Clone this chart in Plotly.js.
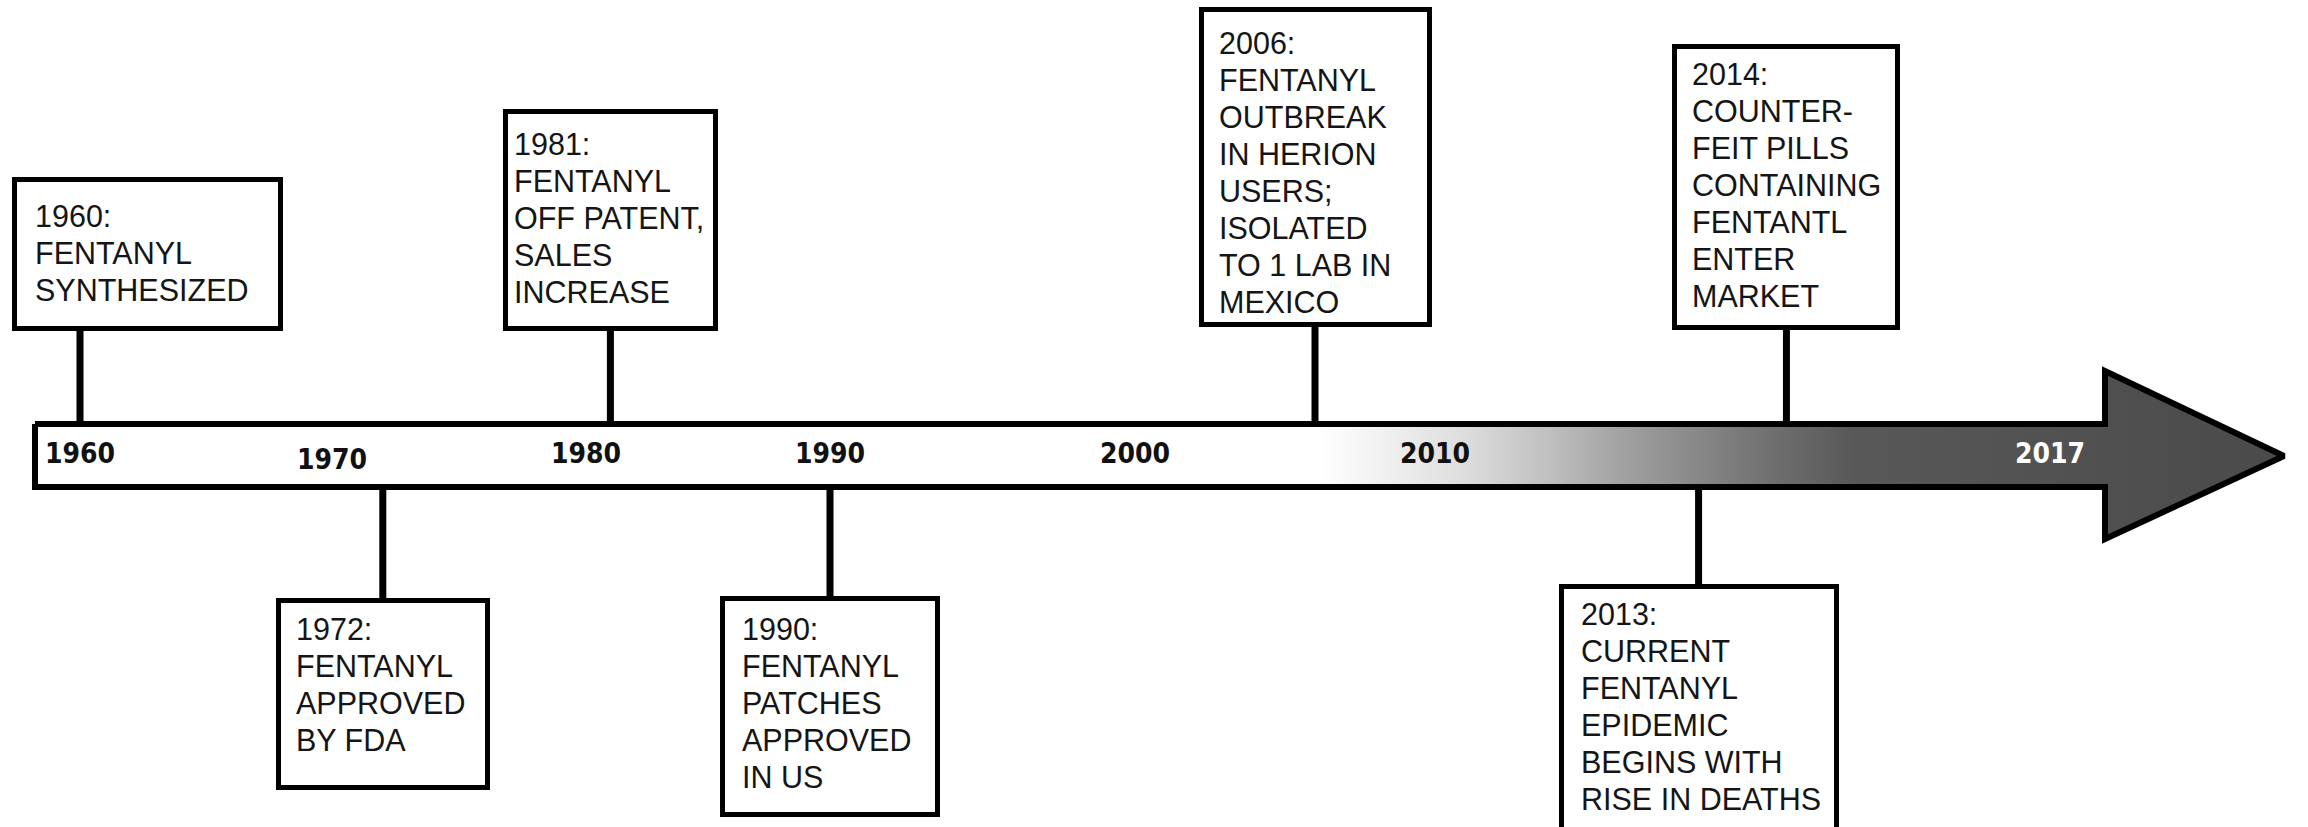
<!DOCTYPE html>
<html><head><meta charset="utf-8">
<script src="https://cdn.plot.ly/plotly-3.0.1.min.js"></script>
<style>html,body{margin:0;padding:0;background:#fff;}#chart{width:2308px;height:827px;}</style>
</head><body><div id="chart"></div>
<script>
// ---------------- DATA ----------------
const tickYears  = [1960, 1970, 1980, 1990, 2000, 2010, 2017];
const tickLabels = ['1960', '1970', '1980', '1990', '2000', '2010', '2017'];

const eventYears = [1960, 1972, 1981, 1990, 2006, 2013, 2014];
const eventSides = ['above', 'below', 'above', 'below', 'above', 'below', 'above'];
const eventLines = [
  ['1960:', 'FENTANYL', 'SYNTHESIZED'],
  ['1972:', 'FENTANYL', 'APPROVED', 'BY FDA'],
  ['1981:', 'FENTANYL', 'OFF PATENT,', 'SALES', 'INCREASE'],
  ['1990:', 'FENTANYL', 'PATCHES', 'APPROVED', 'IN US'],
  ['2006:', 'FENTANYL', 'OUTBREAK', 'IN HERION', 'USERS;', 'ISOLATED', 'TO 1 LAB IN', 'MEXICO'],
  ['2013:', 'CURRENT', 'FENTANYL', 'EPIDEMIC', 'BEGINS WITH', 'RISE IN DEATHS'],
  ['2014:', 'COUNTER-', 'FEIT PILLS', 'CONTAINING', 'FENTANTL', 'ENTER', 'MARKET']
];

// ---------------- LAYOUT (not data) ----------------
const W = 2308, H = 827;
// the timeline is hand drawn and not to scale: each decade mark gets its own column,
// and every span between two marks is its own linear Plotly axis
const markColumns = [80, 332, 586, 830, 1135, 1435, 2050];
const tickDy = {1970: 6};
const tickColor = {2017: '#ffffff'};

const bar = {top: 424, bottom: 487, left: 35, headX: 2105, headTop: 371, headBottom: 539, tipX: 2284, tipY: 456, stroke: 6};
// per-event box geometry (outer px): width, top, bottom, text inset
const boxes = [
  {w: 271, top: 177, bottom: 331, padX: 23, padTop: 28},
  {w: 214, top: 598, bottom: 790, padX: 20, padTop: 20},
  {w: 215, top: 109, bottom: 331, padX: 11, padTop: 24},
  {w: 220, top: 596, bottom: 817, padX: 22, padTop: 22},
  {w: 233, top: 7,   bottom: 327, padX: 20, padTop: 25},
  {w: 280, top: 584, bottom: 845, padX: 22, padTop: 19},
  {w: 228, top: 44,  bottom: 330, padX: 20, padTop: 19}
];
const minBoxLeft = 12;
const textFont = {family: 'Liberation Sans, Arial, sans-serif', size: 30.5, color: '#151515'};
const linePitch = 36.9;
const capOffset = (0.905 - 0.716) * textFont.size;
const tickFont = {family: 'Liberation Sans Narrow, Arial Narrow, DejaVu Sans Condensed, sans-serif', size: 28, weight: 'bold'};

// ---------------- AXES ----------------
const layout = {
  width: W, height: H, autosize: false,
  margin: {l: 0, r: 0, t: 0, b: 0, pad: 0},
  paper_bgcolor: '#ffffff', plot_bgcolor: 'rgba(0,0,0,0)',
  showlegend: false, hovermode: false,
  xaxis: {domain: [0, 1], range: [0, W], visible: false, fixedrange: true, anchor: 'y'},
  yaxis: {domain: [0, 1], range: [H, 0], visible: false, fixedrange: true, anchor: 'x'},
  annotations: [], shapes: []
};
const EXT = 0.5; // small overlap so marks sitting on a segment edge are not clipped
function segColumn(i, yr) {
  const y0 = tickYears[i], y1 = tickYears[i + 1];
  return markColumns[i] + (yr - y0) / (y1 - y0) * (markColumns[i + 1] - markColumns[i]);
}
for (let i = 0; i < tickYears.length - 1; i++) {
  const r0 = tickYears[i] - EXT, r1 = tickYears[i + 1] + EXT;
  layout['xaxis' + (i + 2)] = {
    domain: [segColumn(i, r0) / W, segColumn(i, r1) / W],
    range: [r0, r1], visible: false, fixedrange: true, anchor: 'y'
  };
}
function segOf(yr) {
  for (let i = 0; i < tickYears.length - 1; i++) {
    if (yr >= tickYears[i] && yr < tickYears[i + 1]) return i;
  }
  return tickYears.length - 2;
}
function axId(yr) { return 'x' + (segOf(yr) + 2); }
function yearPx(yr) { return segColumn(segOf(yr), yr); }

// ---------------- TRACES ----------------
const traces = [];
// arrow (decoration)
traces.push({
  type: 'scatter', mode: 'lines', xaxis: 'x', yaxis: 'y', hoverinfo: 'skip',
  x: [bar.left, bar.headX, bar.headX, bar.tipX, bar.headX, bar.headX, bar.left, bar.left],
  y: [bar.top, bar.top, bar.headTop, bar.tipY, bar.headBottom, bar.bottom, bar.bottom, bar.top],
  line: {color: '#000000', width: bar.stroke},
  fill: 'toself',
  fillgradient: {
    type: 'horizontal', start: 1320, stop: 2290,
    colorscale: [
      [0.00, '#ffffff'], [0.05, '#f4f4f4'], [0.15, '#dddddd'], [0.24, '#bebebe'],
      [0.32, '#9e9e9e'], [0.40, '#848484'], [0.48, '#6b6b6b'], [0.55, '#585858'], [1.00, '#4a4a4a']
    ]
  }
});

// stems
eventYears.forEach((yr, k) => {
  const b = boxes[k];
  const ys = eventSides[k] === 'above' ? [b.bottom - 3, bar.top] : [bar.bottom, b.top + 3];
  traces.push({
    type: 'scatter', mode: 'lines', xaxis: axId(yr), yaxis: 'y', hoverinfo: 'skip',
    x: [yr, yr], y: ys, line: {color: '#000000', width: 7}
  });
});

// tick labels on the arrow
tickYears.forEach((yr, k) => {
  traces.push({
    type: 'scatter', mode: 'text', xaxis: axId(yr), yaxis: 'y', hoverinfo: 'skip', cliponaxis: false,
    x: [yr], y: [(bar.top + bar.bottom) / 2 + (tickDy[yr] || 0)], text: [tickLabels[k]],
    textposition: 'middle center',
    textfont: Object.assign({}, tickFont, {color: tickColor[yr] || '#111111'})
  });
});

// boxes + text
eventYears.forEach((yr, k) => {
  const b = boxes[k];
  const stem = yearPx(yr);
  let left = stem - b.w / 2;
  if (left < minBoxLeft) left = minBoxLeft;
  const dx = left - stem;
  const bw = 5;
  layout.annotations.push({
    xref: axId(yr), yref: 'y', x: yr, y: b.top, xanchor: 'left', yanchor: 'top',
    xshift: dx, showarrow: false, text: ' ',
    width: b.w - 2 * bw, height: (b.bottom - b.top) - 2 * bw,
    bordercolor: '#000000', borderwidth: bw, borderpad: 0, bgcolor: '#ffffff'
  });
  eventLines[k].forEach((line, j) => {
    layout.annotations.push({
      xref: axId(yr), yref: 'y', x: yr, y: b.top + b.padTop - capOffset + j * linePitch,
      xanchor: 'left', yanchor: 'top', xshift: dx + b.padX, showarrow: false,
      text: line, font: textFont, align: 'left', borderpad: 0, borderwidth: 0
    });
  });
});

Plotly.newPlot('chart', traces, layout, {displayModeBar: false, staticPlot: true});
</script>
</body></html>
